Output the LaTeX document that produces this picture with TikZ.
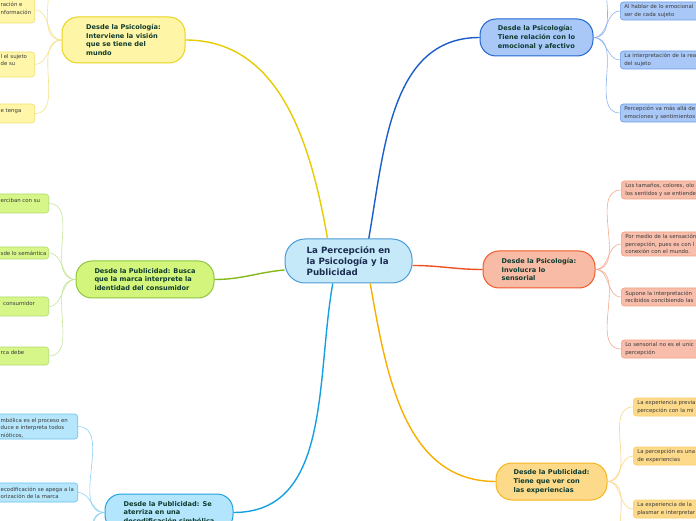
\documentclass[tikz,border=0pt]{standalone}
\usepackage{fontspec}
\setmainfont{DejaVu Sans}
\definecolor{yfill}{HTML}{FFF5A6}\definecolor{yborder}{HTML}{E8D31F}\definecolor{yline}{HTML}{E6CC00}
\definecolor{ylfill}{HTML}{FFF6A9}\definecolor{ylborder}{HTML}{F2E16E}\definecolor{yll}{HTML}{F3E48A}
\definecolor{gfill}{HTML}{D4F57C}\definecolor{gborder}{HTML}{8DC63F}\definecolor{gline}{HTML}{86B817}
\definecolor{glfill}{HTML}{D6F68A}\definecolor{glborder}{HTML}{B0DC6A}\definecolor{gll}{HTML}{C4E59A}
\definecolor{cfill}{HTML}{B3E5FC}\definecolor{cborder}{HTML}{1FA2E0}\definecolor{cline}{HTML}{17A0E0}
\definecolor{clfill}{HTML}{B5E6FB}\definecolor{clborder}{HTML}{66C2EE}\definecolor{cll}{HTML}{8DD2F3}
\definecolor{bfill}{HTML}{A9C8F7}\definecolor{bborder}{HTML}{1F66D2}\definecolor{bline}{HTML}{1B5DC9}
\definecolor{blfill}{HTML}{A9C8F7}\definecolor{blborder}{HTML}{6A9BE6}\definecolor{bll}{HTML}{8EB4EE}
\definecolor{sfill}{HTML}{F8BBA6}\definecolor{sborder}{HTML}{F05A28}\definecolor{sline}{HTML}{EE5020}
\definecolor{slfill}{HTML}{F8BEAB}\definecolor{slborder}{HTML}{F4A082}\definecolor{sll}{HTML}{F6AA90}
\definecolor{efill}{HTML}{FDD98A}\definecolor{eborder}{HTML}{F5B51C}\definecolor{eline}{HTML}{F7AF00}
\definecolor{elfill}{HTML}{FDD98A}\definecolor{elborder}{HTML}{F8CE6C}\definecolor{ell}{HTML}{FBD78A}
\definecolor{ctrfill}{HTML}{C6E9F9}\definecolor{ctrborder}{HTML}{4A9BD6}\definecolor{ctrtext}{HTML}{1B2D50}
\definecolor{hdrtext}{HTML}{0E3B2F}\definecolor{leaftext}{HTML}{3A3A3A}
\tikzset{
  ctr/.style={draw=ctrborder, fill=ctrfill, line width=1pt, rounded corners=20pt, align=left,
    font=\bfseries\fontsize{8.7}{10.6}\selectfont, text=ctrtext, inner sep=0pt},
  hdr/.style={draw, line width=1pt, rounded corners=16pt, align=left,
    font=\bfseries\fontsize{6.6}{8.7}\selectfont, text=hdrtext, inner sep=0pt},
  mainln/.style={line width=1.4pt},
  leafln/.style={line width=0.6pt},
  leafbox/.style={draw, line width=0.6pt, rounded corners=3pt, inner sep=0pt},
  rleaf/.style={leafbox, anchor=west, text width=120pt, inner xsep=4pt, inner ysep=0pt, align=left,
    font=\fontsize{5.4}{7.3}\selectfont, text=leaftext, minimum height=18pt},
  lbox/.style={leafbox, anchor=east, minimum width=110pt},
  ltxt/.style={anchor=north west, inner sep=0pt, align=left, font=\fontsize{5.4}{7.3}\selectfont, text=leaftext},
}
\begin{document}
\begin{tikzpicture}[x=1pt,y=1pt]
\useasboundingbox (0,0) rectangle (696,520);
\fill[white] (0,0) rectangle (696,520);
\clip (0,0) rectangle (696,520);

% center
\node[ctr, minimum width=127pt, minimum height=44pt] (c) at (348.5,259) {La Percepción en\\la Psicología y la\\Publicidad};

% headers
\node[hdr, fill=yfill, draw=yborder, minimum width=123pt, minimum height=46pt] (Y) at (123.5,480)
  {Desde la Psicología:\\Interviene la visión\\que se tiene del\\mundo};
\node[hdr, fill=gfill, draw=gborder, minimum width=138pt, minimum height=37pt] (G) at (145,240.5)
  {Desde la Publicidad: Busca\\que la marca interprete la\\identidad del consumidor};
\node[hdr, fill=cfill, draw=cborder, minimum width=128pt, minimum height=37pt] (C) at (169,7.5)
  {Desde la Publicidad: Se\\aterriza en una\\decodificación simbólica};
\node[hdr, fill=bfill, draw=bborder, minimum width=113pt, minimum height=37pt] (B) at (536.5,482.5)
  {Desde la Psicología:\\Tiene relación con lo\\emocional y afectivo};
\node[hdr, fill=sfill, draw=sborder, minimum width=112pt, minimum height=37pt] (S) at (539,250.5)
  {Desde la Psicología:\\Involucra lo\\sensorial};
\node[hdr, fill=efill, draw=eborder, minimum width=111pt, minimum height=37pt] (E) at (551.5,38.5)
  {Desde la Publicidad:\\Tiene que ver con\\las experiencias};

% main connectors
\draw[mainln, yline] (c.133) to[out=100,in=0] (Y.east);
\draw[mainln, bline] (c.48) to[out=80,in=180] (B.west);
\draw[mainln, sline] (c.-4) to[out=0,in=180] (S.west);
\draw[mainln, eline] (c.-46) to[out=-80,in=180] (E.west);
\draw[mainln, cline] (c.-125) to[out=-100,in=0] (C.east);
\draw[mainln, gline] (c.188) to[out=185,in=0] (G.east);

% yellow leaves (left)
\node[lbox, fill=ylfill, draw=ylborder, minimum height=26pt] (yl1) at (35,510) {};
\node[ltxt] (yt1) at (0.5,517.6) {ración e\\nformación};
\node[lbox, fill=ylfill, draw=ylborder, minimum height=25pt] (yl2) at (35,455.5) {};
\node[ltxt] (yt2) at (0.5,465.6) {l el sujeto\\de su};
\node[lbox, fill=ylfill, draw=ylborder, minimum height=19pt] (yl3) at (35,406.5) {};
\node[ltxt] (yt3) at (0.5,411.6) {e tenga};
\coordinate (yl0) at (35,560);
\foreach \t in {yl0,yl1,yl2,yl3} \draw[leafln, yll] (Y.west) to[out=180,in=0] (\t.east);

% green leaves (left)
\node[lbox, fill=glfill, draw=glborder, minimum height=19pt] (gl1) at (49,316.5) {};
\node[ltxt] (gt1) at (0.5,321.6) {erciban con su};
\node[lbox, fill=glfill, draw=glborder, minimum height=12pt] (gl2) at (49,267) {};
\node[ltxt] (gt2) at (0.5,268.6) {sde lo semántica};
\node[lbox, fill=glfill, draw=glborder, minimum height=19pt] (gl3) at (49,213.5) {};
\node[ltxt] (gt3) at (3,218.6) {consumidor};
\node[lbox, fill=glfill, draw=glborder, minimum height=18pt] (gl4) at (49,164) {};
\node[ltxt] (gt4) at (0.5,169.6) {rca debe};
\foreach \t in {gl1,gl2,gl3,gl4} \draw[leafln, gll] (G.west) to[out=180,in=0] (\t.east);

% cyan leaves (left)
\node[lbox, fill=clfill, draw=clborder, minimum height=25pt] (cl1) at (78,93.5) {};
\node[ltxt] (ct1) at (0.5,101.9) {mbólica es el proceso en\\duce e interpreta todos\\nióticos,};
\node[lbox, fill=clfill, draw=clborder, minimum height=19pt] (cl2) at (78,27.5) {};
\node[ltxt] (ct2) at (0.5,33.3) {ecodificación se apega a la\\orización de la marca};
\coordinate (cl3) at (78,-25);
\coordinate (cl4) at (78,-60);
\foreach \t in {cl1,cl2,cl3,cl4} \draw[leafln, cll] (C.west) to[out=180,in=0] (\t.east);

% blue leaves (right)
\node[rleaf, fill=blfill, draw=blborder] (bl1) at (620,509) {Al hablar de lo emocional\\ser de cada sujeto};
\node[rleaf, fill=blfill, draw=blborder] (bl2) at (620,460) {La interpretación de la rea\\del sujeto};
\node[rleaf, fill=blfill, draw=blborder] (bl3) at (620,407) {Percepción va más allá de\\emociones y sentimientos};
\coordinate (bl0) at (620,560);
\foreach \t in {bl0,bl1,bl2,bl3} \draw[leafln, bll] (B.east) to[out=0,in=180] (\t.west);

% salmon leaves (right)
\node[rleaf, fill=slfill, draw=slborder] (sl1) at (621,330) {Los tamaños, colores, olo\\los sentidos y se entiende};
\node[rleaf, fill=slfill, draw=slborder, minimum height=24pt] (sl2) at (621,276) {Por medio de la sensación\\percepción, pues es con l\\conexión con el mundo.};
\node[rleaf, fill=slfill, draw=slborder] (sl3) at (621,223) {Supone la interpretación\\recibidos concibiendo las};
\node[rleaf, fill=slfill, draw=slborder] (sl4) at (621,171) {Lo sensorial no es el unic\\percepción};
\foreach \t in {sl1,sl2,sl3,sl4} \draw[leafln, sll] (S.east) to[out=0,in=180] (\t.west);

% orange leaves (right)
\node[rleaf, fill=elfill, draw=elborder] (el1) at (633,113) {La experiencia previa\\percepción con la mi};
\node[rleaf, fill=elfill, draw=elborder] (el2) at (633,64) {La percepción es una\\de experiencias};
\node[rleaf, fill=elfill, draw=elborder] (el3) at (633,11) {La experiencia de la\\plasmar e interpretar};
\coordinate (el4) at (633,-40);
\foreach \t in {el1,el2,el3,el4} \draw[leafln, ell] (E.east) to[out=0,in=180] (\t.west);
\end{tikzpicture}
\end{document}
